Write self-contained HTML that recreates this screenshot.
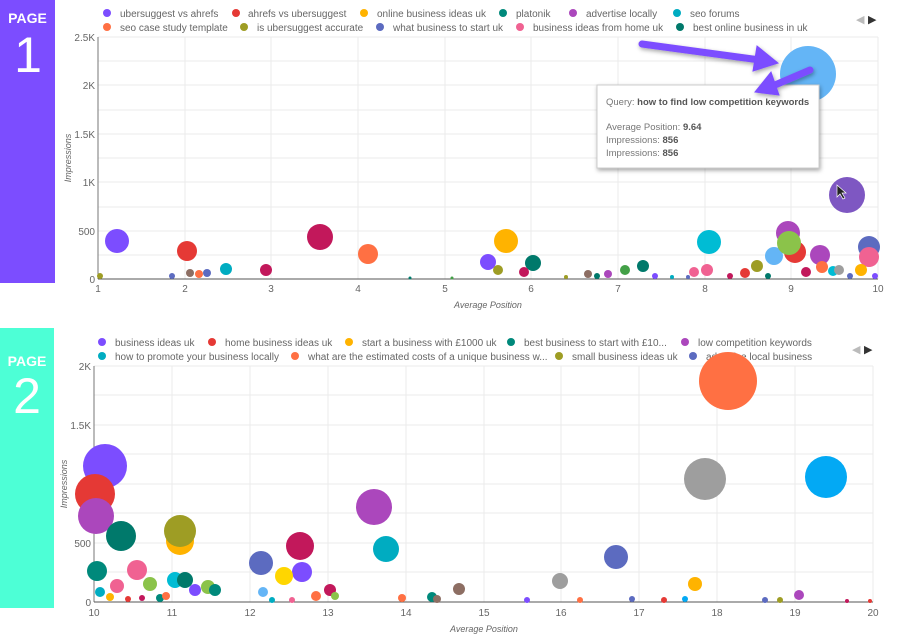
<!DOCTYPE html>
<html><head><meta charset="utf-8"><style>
body{margin:0;background:#fff;width:900px;height:639px;overflow:hidden;font-family:"Liberation Sans",sans-serif}
svg{position:absolute;left:0;top:0}
</style></head><body>
<svg width="900" height="639" viewBox="0 0 900 639" font-family="Liberation Sans, sans-serif">
<defs>
<filter id="sh" x="-20%" y="-20%" width="140%" height="140%"><feDropShadow dx="1" dy="2" stdDeviation="2" flood-opacity="0.35"/></filter>
</defs>
<rect x="0" y="0" width="55" height="283" fill="#7c4dff"/>
<text x="27.5" y="23" fill="#fff" font-size="14" font-weight="bold" text-anchor="middle">PAGE</text>
<text x="28" y="72" fill="#fff" font-size="50" text-anchor="middle">1</text>
<rect x="0" y="328" width="54" height="280" fill="#4dffd6"/>
<text x="27" y="366" fill="#fff" font-size="14" font-weight="bold" text-anchor="middle">PAGE</text>
<text x="27" y="413" fill="#fff" font-size="50" text-anchor="middle">2</text>

<g stroke="#ebebeb" stroke-width="1">
<line x1="98" y1="37" x2="878" y2="37"/><line x1="98" y1="61" x2="878" y2="61"/><line x1="98" y1="85" x2="878" y2="85"/><line x1="98" y1="110" x2="878" y2="110"/><line x1="98" y1="134" x2="878" y2="134"/><line x1="98" y1="158" x2="878" y2="158"/><line x1="98" y1="182" x2="878" y2="182"/><line x1="98" y1="207" x2="878" y2="207"/><line x1="98" y1="231" x2="878" y2="231"/><line x1="98" y1="255" x2="878" y2="255"/>
<line x1="185" y1="37" x2="185" y2="279"/><line x1="271" y1="37" x2="271" y2="279"/><line x1="358" y1="37" x2="358" y2="279"/><line x1="445" y1="37" x2="445" y2="279"/><line x1="531" y1="37" x2="531" y2="279"/><line x1="618" y1="37" x2="618" y2="279"/><line x1="705" y1="37" x2="705" y2="279"/><line x1="791" y1="37" x2="791" y2="279"/><line x1="878" y1="37" x2="878" y2="279"/>
</g>
<line x1="98" y1="37" x2="98" y2="279" stroke="#777"/>
<line x1="98" y1="279" x2="878" y2="279" stroke="#555"/>
<g font-size="10" fill="#666" text-anchor="end">
<text x="95" y="41">2.5K</text><text x="95" y="89">2K</text><text x="95" y="138">1.5K</text><text x="95" y="186">1K</text><text x="95" y="235">500</text><text x="95" y="283">0</text>
</g>
<g font-size="10" fill="#666" text-anchor="middle">
<text x="98" y="292">1</text><text x="185" y="292">2</text><text x="271" y="292">3</text><text x="358" y="292">4</text><text x="445" y="292">5</text><text x="531" y="292">6</text><text x="618" y="292">7</text><text x="705" y="292">8</text><text x="791" y="292">9</text><text x="878" y="292">10</text>
</g>
<text x="488" y="308" font-size="9" font-style="italic" fill="#666" text-anchor="middle">Average Position</text>
<text transform="translate(71,158) rotate(-90)" font-size="9" font-style="italic" fill="#666" text-anchor="middle">Impressions</text>

<g font-size="10" fill="#666">
<circle cx="107" cy="13" r="4" fill="#7c4dff"/><text x="120" y="17">ubersuggest vs ahrefs</text>
<circle cx="236" cy="13" r="4" fill="#e53935"/><text x="248" y="17">ahrefs vs ubersuggest</text>
<circle cx="364" cy="13" r="4" fill="#ffb300"/><text x="377" y="17">online business ideas uk</text>
<circle cx="503" cy="13" r="4" fill="#00897b"/><text x="516" y="17">platonik</text>
<circle cx="573" cy="13" r="4" fill="#ab47bc"/><text x="586" y="17">advertise locally</text>
<circle cx="677" cy="13" r="4" fill="#00acc1"/><text x="690" y="17">seo forums</text>
<circle cx="107" cy="27" r="4" fill="#ff7043"/><text x="120" y="31">seo case study template</text>
<circle cx="244" cy="27" r="4" fill="#9e9d24"/><text x="257" y="31">is ubersuggest accurate</text>
<circle cx="380" cy="27" r="4" fill="#5c6bc0"/><text x="393" y="31">what business to start uk</text>
<circle cx="520" cy="27" r="4" fill="#f06292"/><text x="533" y="31">business ideas from home uk</text>
<circle cx="680" cy="27" r="4" fill="#00796b"/><text x="693" y="31">best online business in uk</text>
</g>
<text x="856" y="23" font-size="11" fill="#bbb">◀</text><text x="868" y="23" font-size="11" fill="#333">▶</text>

<g>
<circle cx="117" cy="241" r="12" fill="#7c4dff"/>
<circle cx="187" cy="251" r="10" fill="#e53935"/>
<circle cx="226" cy="269" r="6" fill="#00acc1"/>
<circle cx="266" cy="270" r="6" fill="#c2185b"/>
<circle cx="320" cy="237" r="13" fill="#c2185b"/>
<circle cx="368" cy="254" r="10" fill="#ff7043"/>
<circle cx="488" cy="262" r="8" fill="#7c4dff"/>
<circle cx="506" cy="241" r="12" fill="#ffb300"/>
<circle cx="498" cy="270" r="5" fill="#9e9d24"/>
<circle cx="533" cy="263" r="8" fill="#00796b"/>
<circle cx="524" cy="272" r="5" fill="#c2185b"/>
<circle cx="709" cy="242" r="12" fill="#00bcd4"/>
<circle cx="774" cy="256" r="9" fill="#64b5f6"/>
<circle cx="788" cy="233" r="12" fill="#ab47bc"/>
<circle cx="795" cy="252" r="11" fill="#e53935"/>
<circle cx="789" cy="243" r="12" fill="#8bc34a"/>
<circle cx="820" cy="255" r="10" fill="#ab47bc"/>
<circle cx="869" cy="247" r="11" fill="#5c6bc0"/>
<circle cx="869" cy="257" r="10" fill="#f06292"/>
<circle cx="847" cy="195" r="18" fill="#7e57c2"/>
<circle cx="643" cy="266" r="6" fill="#00796b"/>
<circle cx="625" cy="270" r="5" fill="#43a047"/>
<circle cx="707" cy="270" r="6" fill="#f06292"/>
<circle cx="694" cy="272" r="5" fill="#f06292"/>
<circle cx="757" cy="266" r="6" fill="#9e9d24"/>
<circle cx="745" cy="273" r="5" fill="#e53935"/>
<circle cx="806" cy="272" r="5" fill="#c2185b"/>
<circle cx="822" cy="267" r="6" fill="#ff7043"/>
<circle cx="861" cy="270" r="6" fill="#ffb300"/>
<circle cx="833" cy="271" r="5" fill="#00bcd4"/>
<circle cx="839" cy="270" r="5" fill="#9e9e9e"/>
<circle cx="100" cy="276" r="3" fill="#9e9d24"/>
<circle cx="172" cy="276" r="3" fill="#5c6bc0"/>
<circle cx="190" cy="273" r="4" fill="#8d6e63"/>
<circle cx="199" cy="274" r="4" fill="#ff7043"/>
<circle cx="207" cy="273" r="4" fill="#5c6bc0"/>
<circle cx="588" cy="274" r="4" fill="#8d6e63"/>
<circle cx="597" cy="276" r="3" fill="#00796b"/>
<circle cx="608" cy="274" r="4" fill="#ab47bc"/>
<circle cx="655" cy="276" r="3" fill="#7c4dff"/>
<circle cx="566" cy="277" r="2" fill="#9e9d24"/><circle cx="410" cy="278" r="1.5" fill="#00796b"/><circle cx="452" cy="278" r="1.5" fill="#43a047"/>
<circle cx="672" cy="277" r="2" fill="#00acc1"/><circle cx="688" cy="277" r="2" fill="#5c6bc0"/><circle cx="730" cy="276" r="3" fill="#c2185b"/><circle cx="768" cy="276" r="3" fill="#00796b"/><circle cx="850" cy="276" r="3" fill="#5c6bc0"/><circle cx="875" cy="276" r="3" fill="#7c4dff"/>
<circle cx="808" cy="74" r="28" fill="#64b5f6"/>
</g>
<rect x="597" y="85" width="222" height="83" fill="#fff" stroke="#ccc" filter="url(#sh)"/>
<g font-size="9.5" fill="#777">
<text x="606" y="105">Query: <tspan font-weight="bold" fill="#555">how to find low competition keywords</tspan></text>
<text x="606" y="130">Average Position: <tspan font-weight="bold" fill="#555">9.64</tspan></text>
<text x="606" y="143">Impressions: <tspan font-weight="bold" fill="#555">856</tspan></text>
<text x="606" y="156">Impressions: <tspan font-weight="bold" fill="#555">856</tspan></text>
</g>
<g fill="#7c4dff" stroke="#7c4dff" filter="url(#sh)">
<line x1="642" y1="44" x2="760" y2="60" stroke-width="7" stroke-linecap="round"/>
<polygon points="757,46 778,63 753,71" stroke-width="1"/>
<line x1="810" y1="70" x2="775" y2="85" stroke-width="7" stroke-linecap="round"/>
<polygon points="771,72 755,92 779,95" stroke-width="1"/>
</g>
<path d="M837,185 l0,12 l3,-3 l3,5 l2,-1 l-3,-5 l4,0 z" fill="#222" stroke="#fff" stroke-width="0.7"/>

<g stroke="#ebebeb" stroke-width="1">
<line x1="94" y1="366" x2="873" y2="366"/><line x1="94" y1="395" x2="873" y2="395"/><line x1="94" y1="425" x2="873" y2="425"/><line x1="94" y1="454" x2="873" y2="454"/><line x1="94" y1="484" x2="873" y2="484"/><line x1="94" y1="513" x2="873" y2="513"/><line x1="94" y1="543" x2="873" y2="543"/><line x1="94" y1="572" x2="873" y2="572"/>
<line x1="172" y1="366" x2="172" y2="602"/><line x1="250" y1="366" x2="250" y2="602"/><line x1="328" y1="366" x2="328" y2="602"/><line x1="406" y1="366" x2="406" y2="602"/><line x1="484" y1="366" x2="484" y2="602"/><line x1="561" y1="366" x2="561" y2="602"/><line x1="639" y1="366" x2="639" y2="602"/><line x1="717" y1="366" x2="717" y2="602"/><line x1="795" y1="366" x2="795" y2="602"/><line x1="873" y1="366" x2="873" y2="602"/>
</g>
<line x1="94" y1="366" x2="94" y2="602" stroke="#777"/>
<line x1="94" y1="602" x2="873" y2="602" stroke="#555"/>
<g font-size="10" fill="#666" text-anchor="end">
<text x="91" y="370">2K</text><text x="91" y="429">1.5K</text><text x="91" y="488">1K</text><text x="91" y="547">500</text><text x="91" y="606">0</text>
</g>
<g font-size="10" fill="#666" text-anchor="middle">
<text x="94" y="616">10</text><text x="172" y="616">11</text><text x="250" y="616">12</text><text x="328" y="616">13</text><text x="406" y="616">14</text><text x="484" y="616">15</text><text x="561" y="616">16</text><text x="639" y="616">17</text><text x="717" y="616">18</text><text x="795" y="616">19</text><text x="873" y="616">20</text>
</g>
<text x="484" y="632" font-size="9" font-style="italic" fill="#666" text-anchor="middle">Average Position</text>
<text transform="translate(67,484) rotate(-90)" font-size="9" font-style="italic" fill="#666" text-anchor="middle">Impressions</text>

<g font-size="10" fill="#666">
<circle cx="102" cy="342" r="4" fill="#7c4dff"/><text x="115" y="346">business ideas uk</text>
<circle cx="212" cy="342" r="4" fill="#e53935"/><text x="225" y="346">home business ideas uk</text>
<circle cx="349" cy="342" r="4" fill="#ffb300"/><text x="362" y="346">start a business with £1000 uk</text>
<circle cx="511" cy="342" r="4" fill="#00897b"/><text x="524" y="346">best business to start with £10...</text>
<circle cx="685" cy="342" r="4" fill="#ab47bc"/><text x="698" y="346">low competition keywords</text>
<circle cx="102" cy="356" r="4" fill="#00acc1"/><text x="115" y="360">how to promote your business locally</text>
<circle cx="295" cy="356" r="4" fill="#ff7043"/><text x="308" y="360">what are the estimated costs of a unique business w...</text>
<circle cx="559" cy="356" r="4" fill="#9e9d24"/><text x="572" y="360">small business ideas uk</text>
<circle cx="693" cy="356" r="4" fill="#5c6bc0"/><text x="706" y="360">advertise local business</text>
</g>
<text x="852" y="353" font-size="11" fill="#bbb">◀</text><text x="864" y="353" font-size="11" fill="#333">▶</text>

<g>
<circle cx="105" cy="466" r="22" fill="#7c4dff"/>
<circle cx="95" cy="494" r="20" fill="#e53935"/>
<circle cx="96" cy="516" r="18" fill="#ab47bc"/>
<circle cx="121" cy="536" r="15" fill="#00796b"/>
<circle cx="180" cy="541" r="14" fill="#ffb300"/>
<circle cx="180" cy="531" r="16" fill="#9e9d24"/>
<circle cx="97" cy="571" r="10" fill="#00897b"/>
<circle cx="137" cy="570" r="10" fill="#f06292"/>
<circle cx="117" cy="586" r="7" fill="#f06292"/>
<circle cx="150" cy="584" r="7" fill="#8bc34a"/>
<circle cx="175" cy="580" r="8" fill="#00bcd4"/>
<circle cx="185" cy="580" r="8" fill="#00796b"/>
<circle cx="208" cy="587" r="7" fill="#8bc34a"/>
<circle cx="215" cy="590" r="6" fill="#00897b"/>
<circle cx="195" cy="590" r="6" fill="#7c4dff"/>
<circle cx="100" cy="592" r="5" fill="#00acc1"/>
<circle cx="110" cy="597" r="4" fill="#ffb300"/><circle cx="128" cy="599" r="3" fill="#e53935"/><circle cx="142" cy="598" r="3" fill="#c2185b"/><circle cx="160" cy="598" r="4" fill="#00897b"/><circle cx="166" cy="596" r="4" fill="#ff7043"/>
<circle cx="261" cy="563" r="12" fill="#5c6bc0"/>
<circle cx="300" cy="546" r="14" fill="#c2185b"/>
<circle cx="302" cy="572" r="10" fill="#7c4dff"/>
<circle cx="284" cy="576" r="9" fill="#ffd600"/>
<circle cx="263" cy="592" r="5" fill="#64b5f6"/><circle cx="272" cy="600" r="3" fill="#00acc1"/><circle cx="292" cy="600" r="3" fill="#f06292"/>
<circle cx="330" cy="590" r="6" fill="#c2185b"/>
<circle cx="316" cy="596" r="5" fill="#ff7043"/><circle cx="335" cy="596" r="4" fill="#8bc34a"/>
<circle cx="374" cy="507" r="18" fill="#ab47bc"/>
<circle cx="386" cy="549" r="13" fill="#00acc1"/>
<circle cx="402" cy="598" r="4" fill="#ff7043"/><circle cx="432" cy="597" r="5" fill="#00897b"/><circle cx="437" cy="599" r="4" fill="#8d6e63"/>
<circle cx="459" cy="589" r="6" fill="#8d6e63"/>
<circle cx="527" cy="600" r="3" fill="#7c4dff"/><circle cx="580" cy="600" r="3" fill="#ff7043"/><circle cx="632" cy="599" r="3" fill="#5c6bc0"/><circle cx="664" cy="600" r="3" fill="#e53935"/><circle cx="685" cy="599" r="3" fill="#03a9f4"/><circle cx="765" cy="600" r="3" fill="#5c6bc0"/><circle cx="780" cy="600" r="3" fill="#9e9d24"/><circle cx="847" cy="601" r="2" fill="#c2185b"/><circle cx="870" cy="601" r="2" fill="#e53935"/>
<circle cx="560" cy="581" r="8" fill="#9e9e9e"/>
<circle cx="616" cy="557" r="12" fill="#5c6bc0"/>
<circle cx="695" cy="584" r="7" fill="#ffb300"/>
<circle cx="799" cy="595" r="5" fill="#ab47bc"/>
<circle cx="705" cy="479" r="21" fill="#9e9e9e"/>
<circle cx="728" cy="381" r="29" fill="#ff7043"/>
<circle cx="826" cy="477" r="21" fill="#03a9f4"/>
</g>
</svg>
</body></html>
